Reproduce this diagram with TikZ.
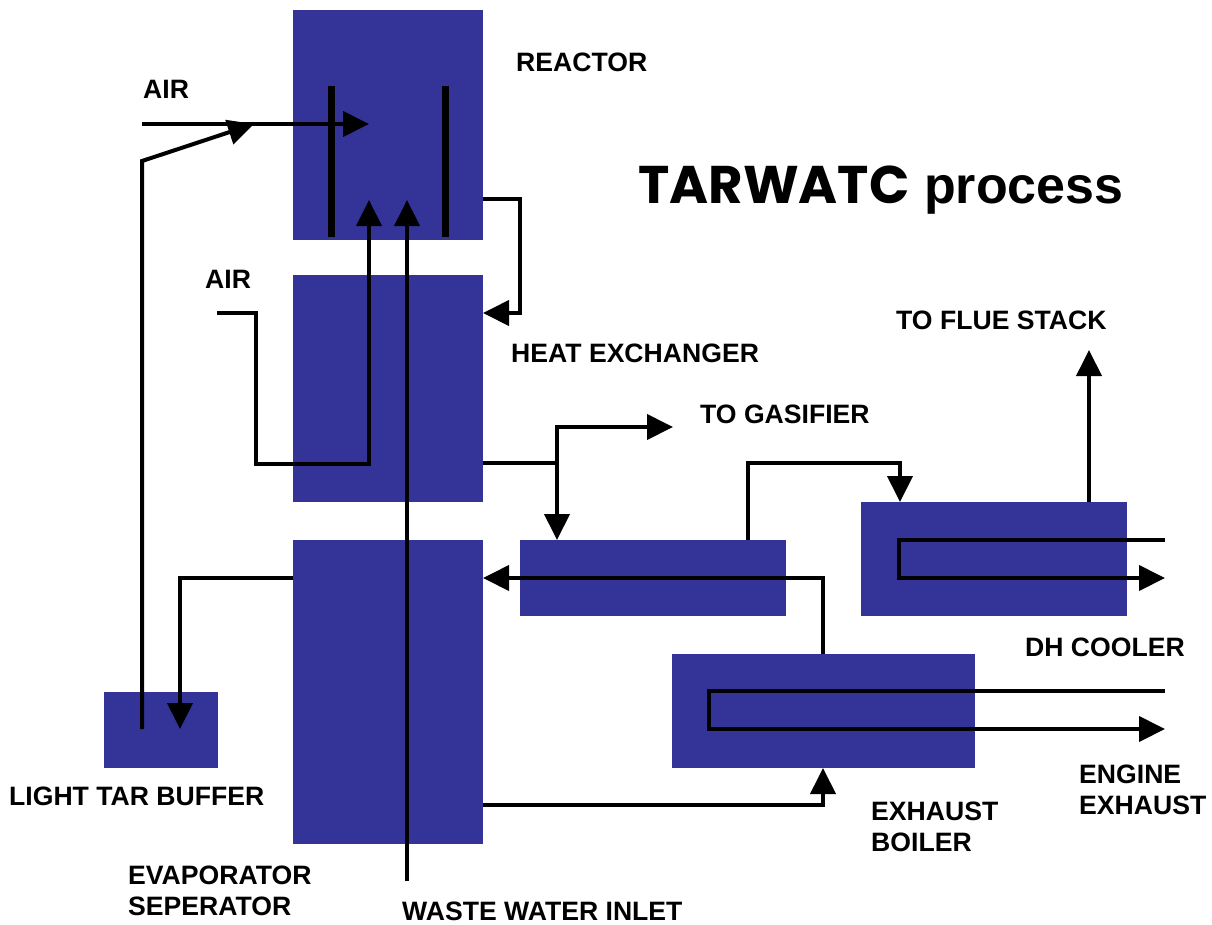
\documentclass[tikz,border=0pt]{standalone}
\usepackage{fontspec}
\setmainfont{Liberation Sans}
\newfontfamily\titlefont{Poppins}
\usetikzlibrary{arrows.meta}
\definecolor{boxblue}{RGB}{52,52,152}
\tikzset{
  box/.style={fill=boxblue, draw=none, inner sep=0pt, outer sep=0pt},
  pipe/.style={line width=4pt, line join=miter},
  flow/.style={pipe, -{Triangle[length=26pt,width=25pt]}},
  bar/.style={line width=7pt},
  lbl/.style={font=\fontsize{26.6}{31}\selectfont\bfseries, inner sep=0pt, anchor=base west, align=left},
}
\begin{document}
\begin{tikzpicture}[x=1pt,y=-1pt]
\useasboundingbox (0,0) rectangle (1212,924);
% boxes
\node[box, minimum width=190pt, minimum height=230pt] (reactor) at (388,125) {};
\node[box, minimum width=190pt, minimum height=227pt] (hx) at (388,388.5) {};
\node[box, minimum width=190pt, minimum height=304pt] (evap) at (388,692) {};
\node[box, minimum width=266pt, minimum height=76pt] (mid) at (653,578) {};
\node[box, minimum width=266pt, minimum height=114pt] (dh) at (994,559) {};
\node[box, minimum width=303pt, minimum height=114pt] (eb) at (823.5,711) {};
\node[box, minimum width=114pt, minimum height=76pt] (ltb) at (161,730) {};
% reactor internal bars
\coordinate (b1t) at (331,86); \coordinate (b1b) at (331,237);
\coordinate (b2t) at (445,86); \coordinate (b2b) at (445,237);
\draw[bar] (b1t) -- (b1b);
\draw[bar] (b2t) -- (b2b);
% air inlet into reactor
\coordinate (air1) at (142,124);
\coordinate (airtip) at (369,124);
\draw[flow] (air1) -- (airtip);
% light tar recycle
\coordinate (ltbtop) at (142,729);
\coordinate (kink) at (142,161);
\coordinate (mergetip) at (254,124);
\draw[flow] (ltbtop) -- (kink) -- (mergetip);
% air 2 through heat exchanger into reactor
\coordinate (air2) at (217,313);
\coordinate (up1) at (369,200);
\draw[flow] (air2) -- (256,313) -- (256,464) -- (369,464) -- (up1);
% waste water
\coordinate (ww) at (407,881);
\coordinate (up2) at (407,200);
\draw[flow] (ww) -- (up2);
% reactor -> heat exchanger
\draw[flow] (reactor.east |- 0,199) -- (520,199) -- (520,313) -- (hx.east |- 0,313);
% heat exchanger out
\coordinate (split) at (557,463);
\coordinate (gas) at (673,427);
\draw[pipe] (hx.east |- 0,463) -- (split);
\draw[flow] (split) -- (557,427) -- (gas);
\draw[flow] (split) -- (mid.north -| split);
% mid -> DH cooler
\draw[flow] (mid.north -| 748,0) -- (748,463) -- (900,463) -- (dh.north -| 900,0);
% exhaust boiler -> evaporator
\draw[flow] (eb.north -| 823,0) -- (823,578) -- (evap.east |- 0,578);
% evaporator -> light tar buffer
\coordinate (ltbtip) at (180,729);
\draw[flow] (evap.west |- 0,578) -- (180,578) -- (ltbtip);
% evaporator -> exhaust boiler
\draw[flow] (evap.east |- 0,805) -- (823,805) -- (eb.south -| 823,0);
% flue stack
\coordinate (flue) at (1089,350);
\draw[flow] (dh.north -| flue) -- (flue);
% DH cooler internal
\coordinate (dhin) at (1165,540);
\coordinate (dhout) at (1165,578);
\draw[flow] (dhin) -- (899,540) -- (899,578) -- (dhout);
% exhaust boiler internal
\coordinate (ebin) at (1165,691);
\coordinate (ebout) at (1165,729);
\draw[flow] (ebin) -- (709,691) -- (709,729) -- (ebout);
% labels
\node[lbl] (lreactor) at (516,71) {REACTOR};
\node[lbl] (lair1) at (143,98) {AIR};
\node[lbl] (lair2) at (205,288) {AIR};
\node[lbl] (lhx) at (511,362) {HEAT EXCHANGER};
\node[lbl] (lgas) at (700,423) {TO GASIFIER};
\node[lbl] (lflue) at (896,329) {TO FLUE STACK};
\node[lbl] (ldh) at (1025,656) {DH COOLER};
\node[lbl] (leng) at (1079,814) {ENGINE\\EXHAUST};
\node[lbl] (leb) at (871,851) {EXHAUST\\BOILER};
\node[lbl] (lltb) at (9,805) {LIGHT TAR BUFFER};
\node[lbl] (levap) at (128,915) {EVAPORATOR\\SEPERATOR};
\node[lbl] (lww) at (402,920) {WASTE WATER INLET};
\node[inner sep=0pt, anchor=base west] (title) at (638,203) {{\titlefont\fontsize{53}{58}\selectfont\bfseries TARWATC}\fontsize{52}{60}\selectfont\bfseries\ process};
\end{tikzpicture}
\end{document}
